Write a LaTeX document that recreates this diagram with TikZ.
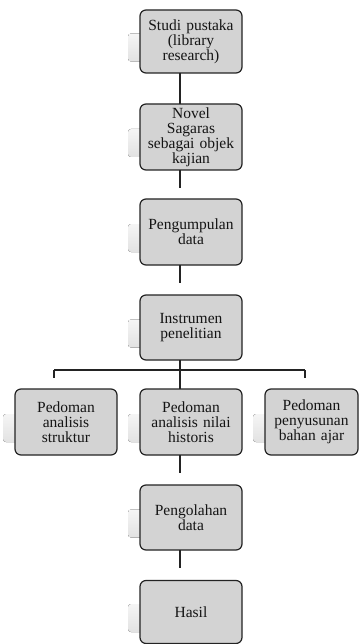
\documentclass[tikz,border=0pt]{standalone}
\usepackage{fontspec}
\setmainfont{Liberation Serif}
\usetikzlibrary{calc,backgrounds}
\definecolor{boxfill}{RGB}{211,211,211}
\definecolor{shadowtop}{RGB}{245,245,245}
\definecolor{shadowbot}{RGB}{226,226,226}
\definecolor{linec}{RGB}{35,35,35}
\tikzset{
  stepbox/.style={draw=linec, line width=1.2pt, fill=boxfill, rounded corners=6pt,
    minimum width=102pt, minimum height=65pt, inner sep=0pt, outer sep=0pt,
    text width=100pt, align=center, font=\fontsize{15.5}{15}\selectfont, text=black!92},
  conn/.style={draw=linec, line width=1.3pt},
  shade/.style={top color=shadowtop, bottom color=shadowbot, rounded corners=3pt}
}
\begin{document}
\begin{tikzpicture}[x=1pt,y=1pt]
\useasboundingbox (0,0) rectangle (360,-644);
\node[stepbox, minimum height=63pt] (b1) at (191,-41.5) {Studi pustaka\\(library\\research)};
\node[stepbox, minimum height=66pt] (b2) at (191,-137) {Novel\\Sagaras\\sebagai objek\\kajian};
\node[stepbox, minimum height=66pt] (b3) at (191,-232) {Pengumpulan\\data};
\node[stepbox] (b4) at (191,-327.5) {Instrumen\\penelitian};
\node[stepbox, minimum height=66pt] (c1) at (66,-422) {Pedoman\\analisis\\struktur};
\node[stepbox, minimum height=66pt] (c2) at (191,-422) {Pedoman\\analisis nilai\\historis};
\node[stepbox, minimum height=66pt, minimum width=93pt, text width=92pt] (c3) at (311.5,-422) {Pedoman\\penyusunan\\bahan ajar};
\node[stepbox] (d) at (191,-517.5) {Pengolahan\\data};
\node[stepbox, minimum height=63pt] (e) at (191,-612) {Hasil};
\coordinate (col) at (180,0);
\coordinate (lcol) at (54,0);
\coordinate (rcol) at (305,0);
\coordinate (bar) at (0,-370);
\begin{pgfonlayer}{background}
\foreach \n in {b1,b2,b3,b4,c1,c2,c3,d,e}{
  \fill[shade] ($(\n.west)+(-12pt,8pt)$) rectangle ($(\n.east)+(-12pt,-20pt)$);
}
\end{pgfonlayer}
\draw[conn] (b1.south -| col) -- (b2.north -| col);
\draw[conn] (b2.south -| col) -- ++(0,-18);
\draw[conn] (b3.south -| col) -- ++(0,-18);
\draw[conn] (b4.south -| col) -- (c2.north -| col);
\draw[conn] (bar -| lcol) -- (bar -| rcol);
\draw[conn] (bar -| lcol) -- ++(0,-8);
\draw[conn] (bar -| rcol) -- ++(0,-8);
\draw[conn] (c2.south -| col) -- ++(0,-18);
\draw[conn] (d.south -| col) -- ++(0,-18);
\end{tikzpicture}
\end{document}
